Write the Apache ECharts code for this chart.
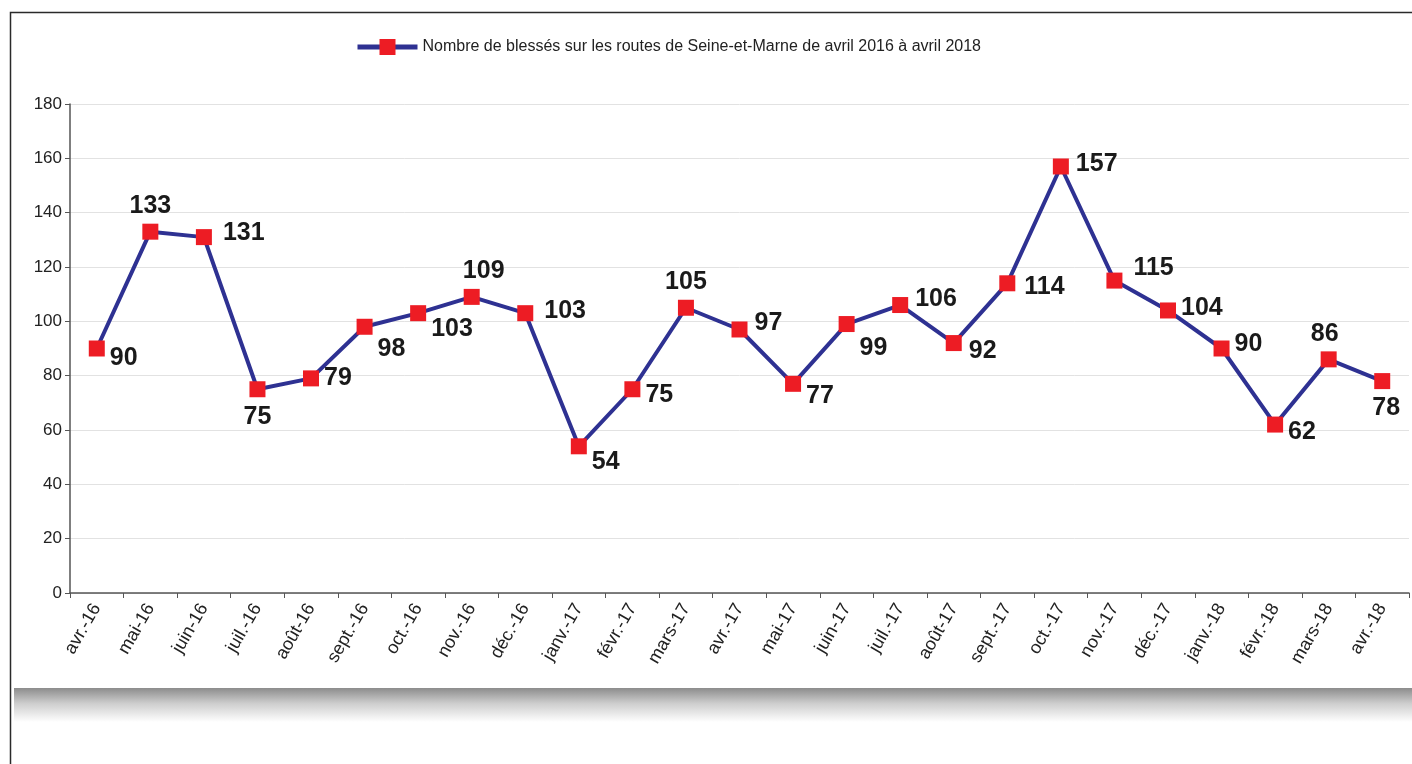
<!DOCTYPE html>
<html>
<head>
<meta charset="utf-8">
<script src="https://cdn.jsdelivr.net/npm/echarts@6/dist/echarts.min.js"></script>
<style>
  html, body { margin: 0; padding: 0; background: #fff; }
  #chart { width: 1412px; height: 764px; }
</style>
</head>
<body>
<div id="chart"></div>
<script>
var months = ['avr.-16', 'mai-16', 'juin-16', 'juil.-16', 'août-16', 'sept.-16', 'oct.-16', 'nov.-16', 'déc.-16',
  'janv.-17', 'févr.-17', 'mars-17', 'avr.-17', 'mai-17', 'juin-17', 'juil.-17', 'août-17', 'sept.-17',
  'oct.-17', 'nov.-17', 'déc.-17', 'janv.-18', 'févr.-18', 'mars-18', 'avr.-18'];
var blesses = [90, 133, 131, 75, 79, 98, 103, 109, 103, 54, 75, 105, 97, 77, 99, 106, 92, 114, 157, 115, 104, 90, 62, 86, 78];
var seriesName = 'Nombre de blessés sur les routes de Seine-et-Marne de avril 2016 à avril 2018';
var yTicks = [0, 20, 40, 60, 80, 100, 120, 140, 160, 180];

// where each value label sits around its point: [position, dx, dy]
var labelPlace = [
  ['right', 0, 10], ['top', 0, 0], ['right', 6, -4], ['bottom', 0, 2], ['right', 0, 0],
  ['right', 0, 22], ['right', 0, 16], ['top', 12, 0], ['right', 6, -2], ['right', 0, 16],
  ['right', 0, 6], ['top', 0, 0], ['right', 2, -6], ['right', 0, 12], ['right', 0, 24],
  ['right', 2, -6], ['right', 2, 8], ['right', 4, 4], ['right', 2, -2], ['right', 6, -12],
  ['right', 0, -2], ['right', 0, -4], ['right', 0, 8], ['top', -4, 0], ['bottom', 4, 2]
];

var narrow = "'Liberation Sans Narrow', 'Arial Narrow', 'Liberation Sans', sans-serif";
var plain = "'Liberation Sans', Arial, sans-serif";

var chart = echarts.init(document.getElementById('chart'));

var points = blesses.map(function (v, i) {
  var p = labelPlace[i];
  return { value: v, label: { position: p[0], offset: [p[1], p[2]] } };
});

var option = {
  backgroundColor: '#ffffff',
  animation: false,
  legend: {
    top: 34,
    left: 350,
    itemWidth: 60,
    itemHeight: 20,
    itemGap: 12,
    lineStyle: { width: 5 },
    textStyle: { fontFamily: plain, fontSize: 16, color: '#222' },
    data: [seriesName]
  },
  grid: { left: 70, right: 3, top: 104, bottom: 171, containLabel: false },
  xAxis: {
    type: 'category',
    data: months,
    boundaryGap: true,
    axisLine: { lineStyle: { color: '#555', width: 1.5 } },
    axisTick: { show: true, length: 5, lineStyle: { color: '#555' } },
    axisLabel: {
      rotate: 60, interval: 0, margin: 12,
      fontFamily: plain, fontSize: 18, color: '#222'
    }
  },
  yAxis: {
    type: 'value',
    min: yTicks[0],
    max: yTicks[yTicks.length - 1],
    interval: 20,
    axisLine: { show: true, lineStyle: { color: '#555', width: 1.5 } },
    axisTick: { show: true, length: 5, lineStyle: { color: '#555' } },
    axisLabel: { margin: 8, fontFamily: plain, fontSize: 17, color: '#222' },
    splitLine: { lineStyle: { color: '#e2e2e2', width: 1 } }
  },
  series: [{
    name: seriesName,
    type: 'line',
    data: points,
    symbol: 'rect',
    symbolSize: 16,
    itemStyle: { color: '#ed1c24' },
    lineStyle: { color: '#2e3192', width: 4 },
    z: 3,
    label: {
      show: true,
      distance: 5,
      fontFamily: narrow,
      fontWeight: 'bold',
      fontSize: 25,
      color: '#1a1a1a'
    }
  }],
  graphic: [
    {
      type: 'rect', silent: true, z: -1,
      shape: { x: 14, y: 688, width: 1400, height: 34 },
      style: {
        fill: new echarts.graphic.LinearGradient(0, 0, 0, 1, [
          { offset: 0, color: '#8c8c8c' },
          { offset: 0.45, color: '#cdcdcd' },
          { offset: 1, color: '#ffffff' }
        ])
      }
    },
    {
      type: 'rect', silent: true, z: 10,
      shape: { x: 10.5, y: 12.5, width: 1420, height: 800 },
      style: { fill: 'none', stroke: '#2a2a2a', lineWidth: 1.5 }
    }
  ]
};

chart.setOption(option);
</script>
</body>
</html>
